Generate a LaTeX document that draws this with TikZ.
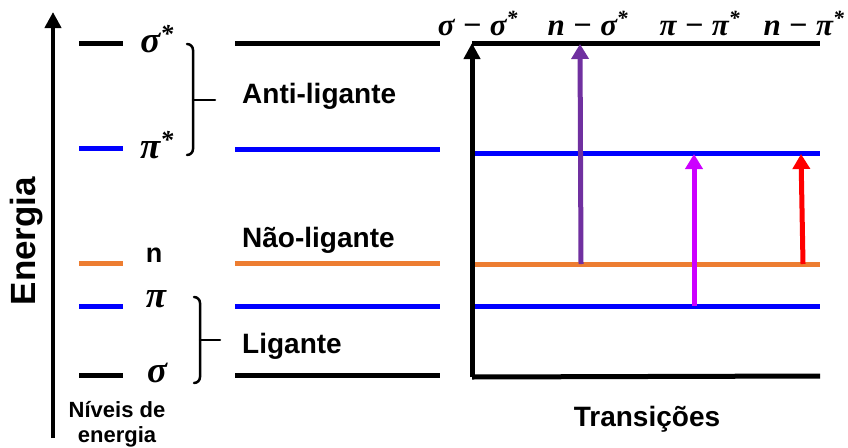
\documentclass[tikz,border=0pt]{standalone}
\usepackage{fontspec}
\setmainfont{Liberation Sans}
\newfontfamily\grkfont{Liberation Serif}
\usetikzlibrary{arrows.meta}

\definecolor{lvblue}{RGB}{0,0,255}
\definecolor{lvorange}{RGB}{237,125,49}
\definecolor{trpurple}{RGB}{112,48,160}
\definecolor{trmagenta}{RGB}{204,0,255}
\definecolor{trred}{RGB}{255,0,0}

% Bold italic serif for the orbital symbols.
\newcommand{\orb}[1]{{\grkfont\bfseries\itshape #1}}
\newcommand{\orbs}[1]{\orb{#1}\textsuperscript{\orb{*}}}

\begin{document}
\begin{tikzpicture}
		[
			x=1pt, y=-1pt,
			% One energy level.
			level/.style={line width=5pt},
			% Axis with an arrow on top.
			axis/.style={line width=4.5pt, -{Triangle[width=16pt,length=16pt]}},
			% One transition between two levels.
			trans/.style={line width=5pt, -{Triangle[width=17pt,length=15pt]}},
			brace/.style={line width=2.5pt, line cap=round},
			lbl/.style={font=\fontsize{28}{30}\selectfont\bfseries, anchor=base west, inner sep=0pt},
			greek/.style={font=\fontsize{37}{38}\selectfont, anchor=base, inner sep=0pt},
			tlbl/.style={font=\fontsize{31}{32}\selectfont, anchor=base, inner sep=0pt}
		]
			\useasboundingbox (0,0) rectangle (848,447);

			% Energy axis.
			\coordinate (ebot) at (53,438);
			\coordinate (etop) at (53,12);
			\draw[axis] (ebot) -- (etop);
			\node[rotate=90, anchor=base, inner sep=0pt,
				font=\fontsize{35}{36}\selectfont\bfseries] (energia) at (35,241) {Energia};
			\node[anchor=base, inner sep=0pt, font=\fontsize{22}{24}\selectfont\bfseries]
				(niveis) at (117,417) {Níveis de};
			\node[anchor=base, inner sep=0pt, font=\fontsize{22}{24}\selectfont\bfseries]
				(energ) at (117,442) {energia};

			% Short levels with their names.
			\draw[level] (79,43) -- (123,43);
			\draw[level, lvblue] (79,148) -- (123,148);
			\draw[level, lvorange] (79,263) -- (123,263);
			\draw[level, lvblue] (79,306) -- (123,306);
			\draw[level] (79,375) -- (123,375);
			\node[greek] (sigs) at (157,52) {\orbs{σ}};
			\node[greek] (pis) at (157,158) {\orbs{π}};
			\node[anchor=base, inner sep=0pt, font=\fontsize{27}{28}\selectfont\bfseries]
				(nn) at (154,262) {n};
			\node[greek] (pp) at (156,307) {\orb{π}};
			\node[greek] (ss) at (157,382) {\orb{σ}};

			% Braces.
			\draw[brace] (187,44) to[out=0,in=90] (193,50) -- (193,149)
				to[out=-90,in=0] (187,155);
			\draw[brace] (193,100) -- (215,100);
			\draw[brace] (194,297) to[out=0,in=90] (200,303) -- (200,377)
				to[out=-90,in=0] (194,383);
			\draw[brace] (200,340) -- (220,340);

			% Middle levels.
			\draw[level] (235,43) -- (440,43);
			\draw[level, lvblue] (235,149) -- (440,149);
			\draw[level, lvorange] (235,263) -- (440,263);
			\draw[level, lvblue] (235,306) -- (440,306);
			\draw[level] (235,375) -- (440,375);
			\node[lbl] (anti) at (242,103) {Anti-ligante};
			\node[lbl] (nao) at (242,247) {Não-ligante};
			\node[lbl] (lig) at (242,353) {Ligante};

			% Right levels.
			\coordinate (rs0) at (472,377);
			\coordinate (rs1) at (472,43);
			\coordinate (rss) at (820,43);
			\coordinate (rps) at (473,153);
			\coordinate (rps1) at (820,153);
			\coordinate (rn) at (473,264);
			\coordinate (rn1) at (820,264);
			\coordinate (rp) at (473,306);
			\coordinate (rp1) at (820,306);
			\coordinate (rsb) at (820,376);
			\draw[level] (rs1) -- (rss);
			\draw[level, lvblue] (rps) -- (rps1);
			\draw[level, lvorange] (rn) -- (rn1);
			\draw[level, lvblue] (rp) -- (rp1);
			\draw[line width=5pt] (rs0) -- (rsb);
			\draw[axis, line width=5pt] (rs0) -- (rs1);

			% Transitions.
			\draw[trans, trpurple] (581,264) -- (580,44);
			\draw[trans, trmagenta] (694,306) -- (694,154);
			\draw[trans, trred] (803,264) -- (801,154);

			\node[tlbl] (t1) at (478,35) {\orb{σ} − \orbs{σ}};
			\node[tlbl] (t2) at (588,35) {\orb{n} − \orbs{σ}};
			\node[tlbl] (t3) at (700,35) {\orb{π} − \orbs{π}};
			\node[tlbl] (t4) at (804,35) {\orb{n} − \orbs{π}};

			\node[anchor=base, inner sep=0pt, font=\fontsize{28}{30}\selectfont\bfseries]
				(trs) at (647,426) {Transições};
		\end{tikzpicture}
\end{document}
